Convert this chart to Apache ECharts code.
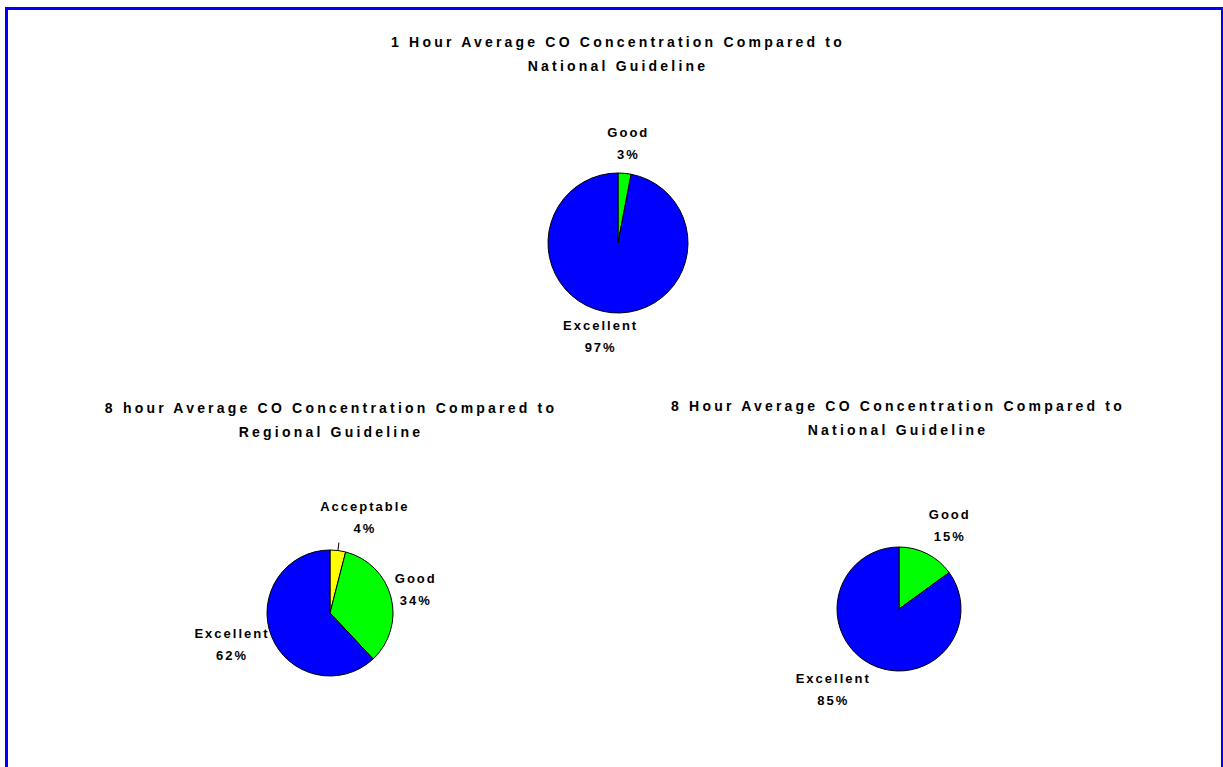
<!DOCTYPE html>
<html><head><meta charset="utf-8">
<script src="https://cdn.jsdelivr.net/npm/echarts@6/dist/echarts.min.js"></script>
<style>html,body{margin:0;padding:0;background:#fff}#c{width:1223px;height:767px}</style>
</head><body><div id="c"></div>
<script>
// Data
const titles = [
  '1 Hour Average CO Concentration Compared to\nNational Guideline',
  '8 hour Average CO Concentration Compared to\nRegional Guideline',
  '8 Hour Average CO Concentration Compared to\nNational Guideline'
];
const pie1Categories = ['Good', 'Excellent'];
const pie1Values = [3, 97];
const pie2Categories = ['Acceptable', 'Good', 'Excellent'];
const pie2Values = [4, 34, 62];
const pie3Categories = ['Good', 'Excellent'];
const pie3Values = [15, 85];

const colorMap = { Excellent: '#0000FF', Good: '#00FF00', Acceptable: '#FFFF00' };
const FONT = 'Liberation Sans, Arial, sans-serif';

// label nudges (layout only), relative to the default outside label anchor
const labelNudge = [
  [[-2, -22], [-5, 16]],
  [[21, -25], [12, -6], [-27, 5]],
  [[14, -21], [-29, 18]]
];

function mkData(cats, vals, lineIdx) {
  return cats.map((c, i) => ({
    name: c, value: vals[i], itemStyle: { color: colorMap[c] },
    labelLine: { show: i === lineIdx }
  }));
}

function pieSeries(idx, cats, vals, center, radius, lineIdx) {
  return {
    type: 'pie',
    center: center,
    radius: radius,
    startAngle: 90,
    clockwise: true,
    percentPrecision: 0,
    avoidLabelOverlap: false,
    silent: true,
    itemStyle: { borderColor: '#000', borderWidth: 1 },
    label: {
      show: true,
      position: 'outside',
      formatter: '{b}\n{d}%',
      fontFamily: FONT,
      fontWeight: 'bold',
      fontSize: 13,
      lineHeight: 22,
      color: '#000'
    },
    labelLine: { show: false, length: 8, length2: 0, lineStyle: { color: '#000', width: 1 } },
    labelLayout: function (p) {
      const n = labelNudge[idx][p.dataIndex];
      return { dx: n[0], dy: n[1], align: 'center' };
    },
    data: mkData(cats, vals, lineIdx)
  };
}

const chart = echarts.init(document.getElementById('c'), null, { renderer: 'svg' });
const titleStyle = { fontFamily: FONT, fontWeight: 'bold', fontSize: 14, lineHeight: 24, color: '#000' };
chart.setOption({
  animation: false,
  backgroundColor: '#fff',
  title: [
    { text: titles[0], left: 613, top: 25, textAlign: 'center', textStyle: titleStyle },
    { text: titles[1], left: 326, top: 391, textAlign: 'center', textStyle: titleStyle },
    { text: titles[2], left: 893, top: 389, textAlign: 'center', textStyle: titleStyle }
  ],
  graphic: [{
    type: 'rect', silent: true, z: 100,
    shape: { x: 6.5, y: 8.5, width: 1216, height: 800 },
    style: { fill: 'none', stroke: '#0000FF', lineWidth: 3 }
  }],
  series: [
    pieSeries(0, pie1Categories, pie1Values, [618, 243], 70, -1),
    pieSeries(1, pie2Categories, pie2Values, [330, 613], 63, 0),
    pieSeries(2, pie3Categories, pie3Values, [899, 609], 62, -1)
  ]
});
function spaceText() {
  document.querySelectorAll('#c svg text').forEach(t => {
    const st = t.getAttribute('style') || '';
    const big = /14px/.test(st);
    t.setAttribute('letter-spacing', big ? '3.2' : '2');
  });
}
spaceText();
chart.on('finished', spaceText);
</script></body></html>
